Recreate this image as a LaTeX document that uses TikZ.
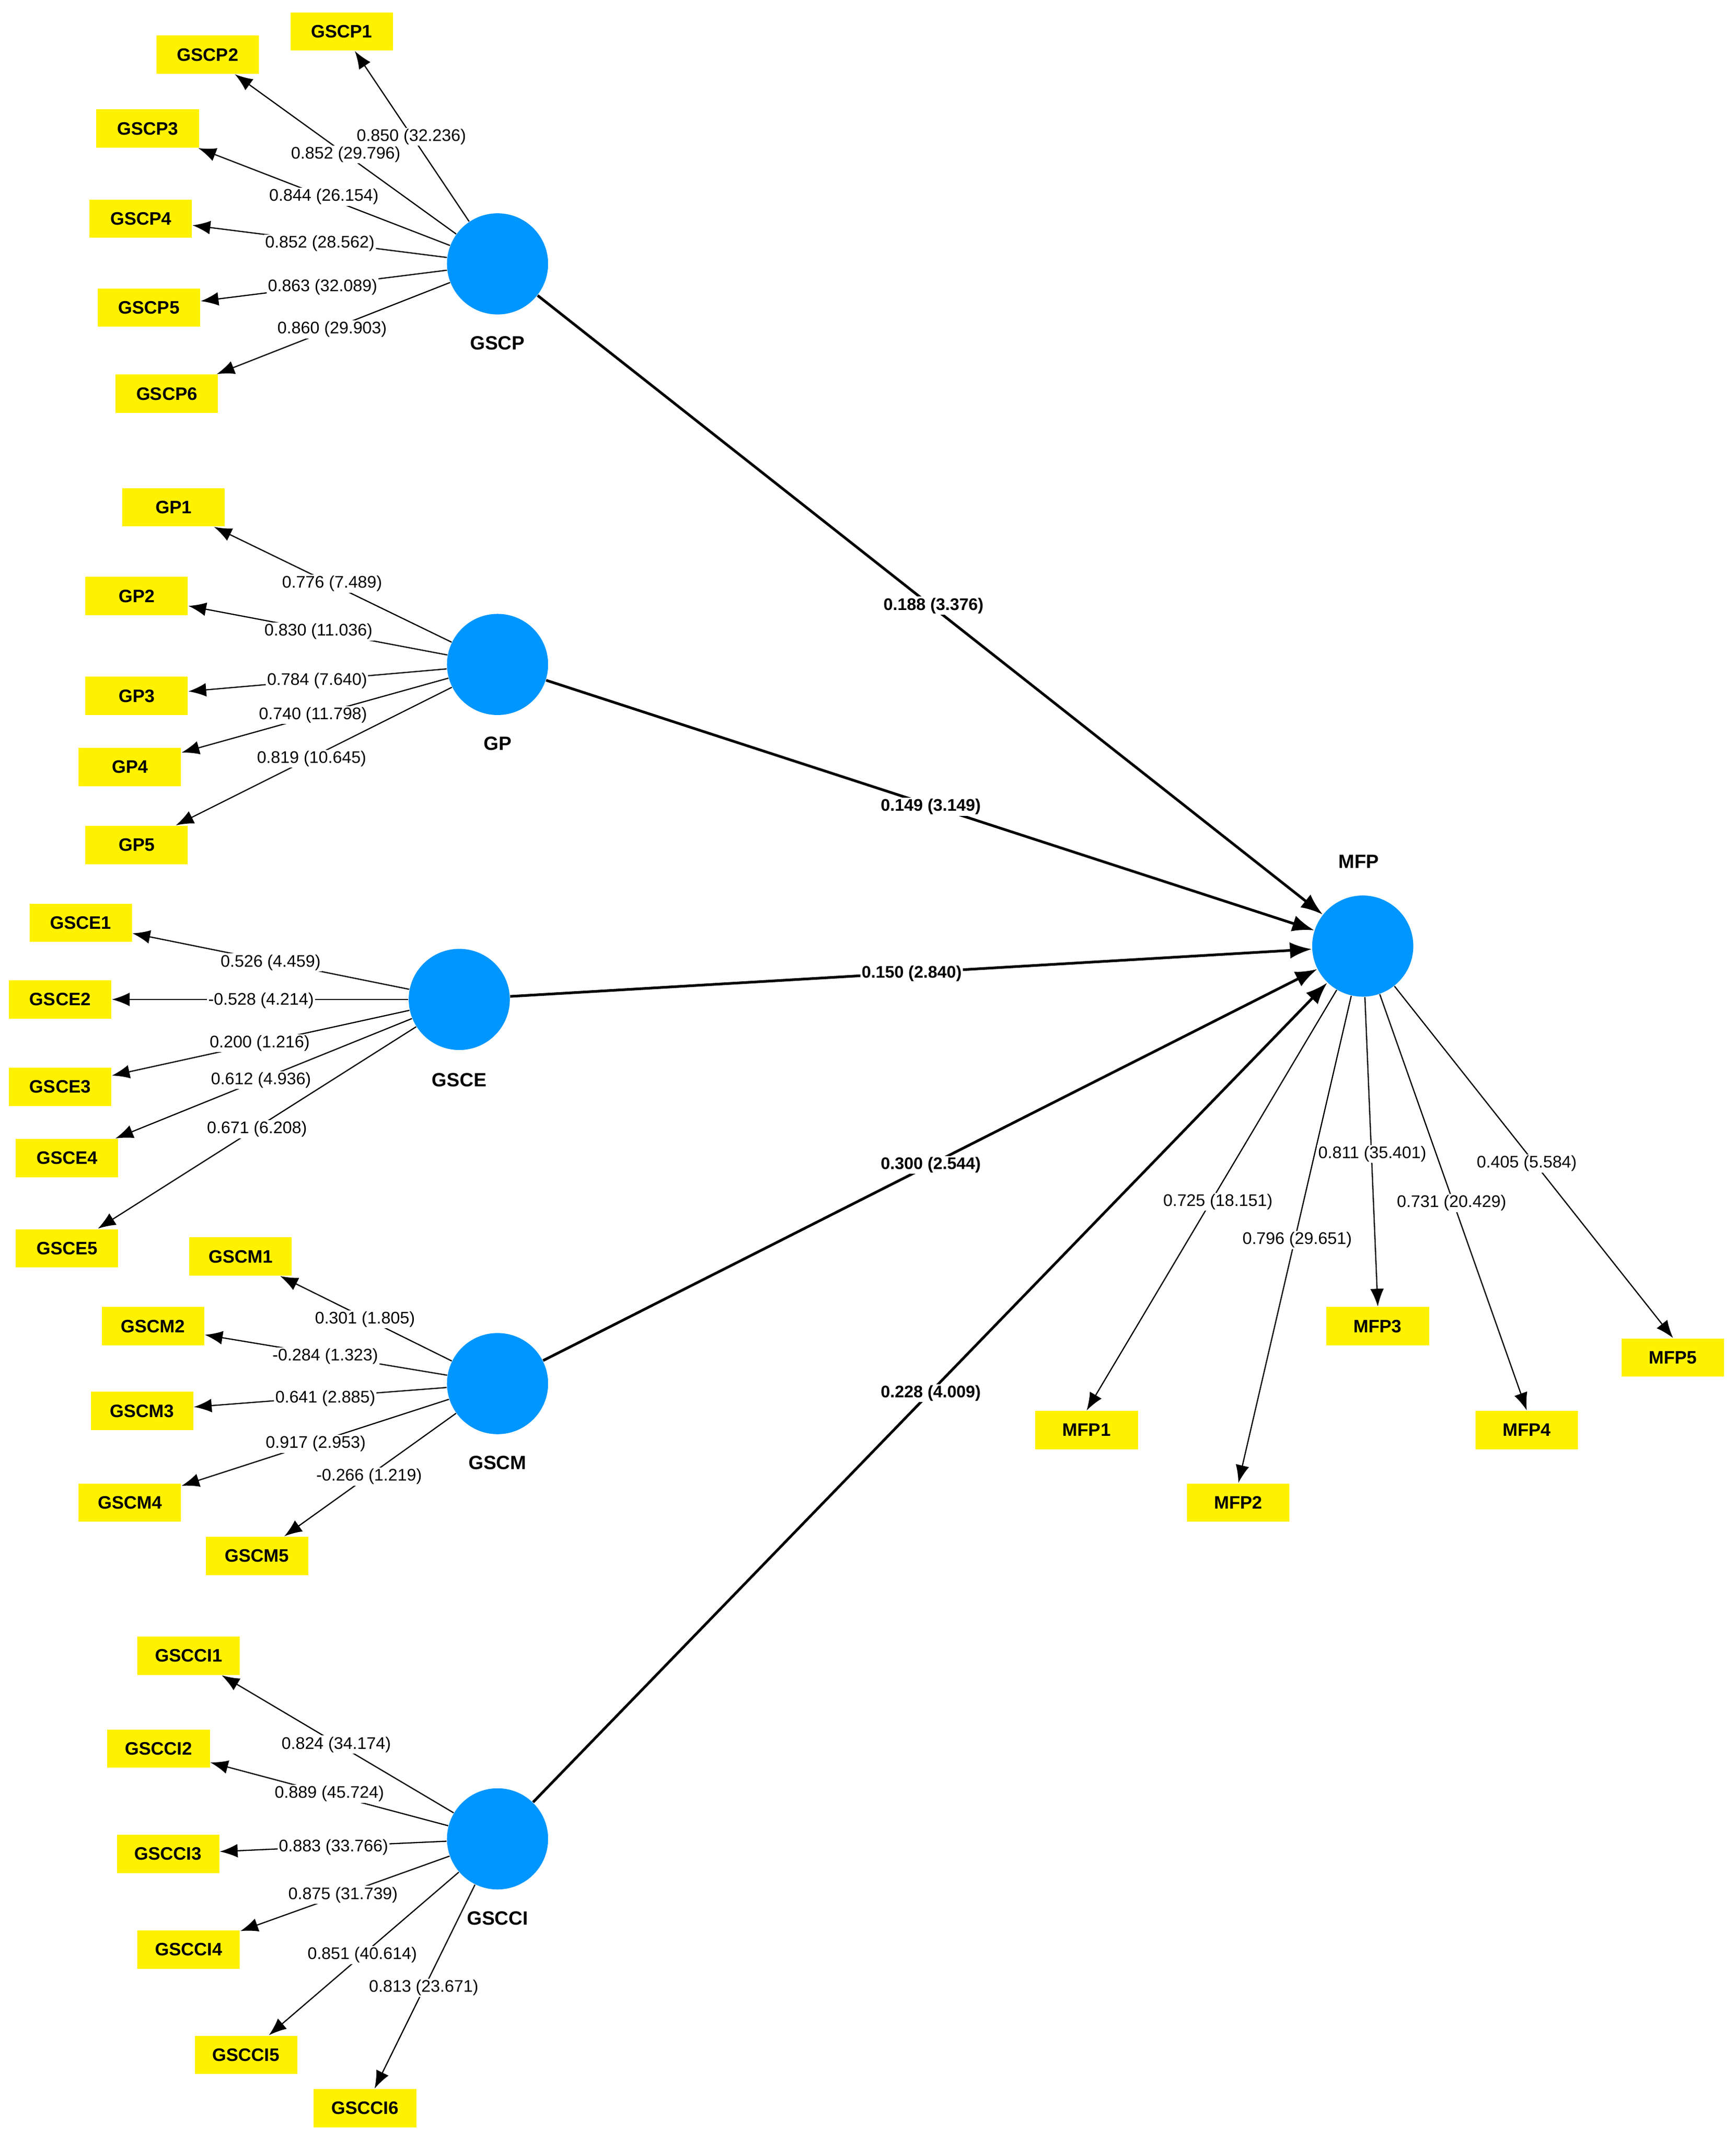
\documentclass[tikz,border=0pt]{standalone}
\usepackage{fontspec}
\setmainfont{Liberation Sans}
\usetikzlibrary{arrows.meta}
\tikzset{
  lv/.style={circle,fill={rgb,255:red,0;green,150;blue,255},minimum size=1.48cm,inner sep=0pt},
  ind/.style={rectangle,fill=yellow,minimum width=1.5cm,minimum height=0.56cm,inner sep=0pt,font=\fontsize{7.5}{8}\selectfont\bfseries},
  nm/.style={font=\fontsize{8}{9}\selectfont\bfseries},
  lab/.style={fill=white,inner sep=0.5pt,font=\fontsize{7}{8}\selectfont},
  plab/.style={fill=white,inner sep=0.5pt,font=\fontsize{7}{8}\selectfont\bfseries},
  load/.style={-{Latex[length=2.6mm,width=2mm]},line width=0.5pt},
  path/.style={-{Latex[length=3.2mm,width=2.4mm]},line width=1.1pt}
}
\begin{document}
\begin{tikzpicture}[x=0.02cm,y=-0.02cm]
  \useasboundingbox (0,0) rectangle (1270,1566);
  % latent variables
  \node[lv] (gscp) at (364,193) {};
  \node[lv] (gp) at (364,486) {};
  \node[lv] (gsce) at (336,731) {};
  \node[lv] (gscm) at (364,1012) {};
  \node[lv] (gscci) at (364,1345) {};
  \node[lv] (mfp) at (997,692) {};
  \node[nm] (gscpn) at (364,251) {GSCP};
  \node[nm] (gpn) at (364,544) {GP};
  \node[nm] (gscen) at (336,790) {GSCE};
  \node[nm] (gscmn) at (364,1070) {GSCM};
  \node[nm] (gsccin) at (364,1403) {GSCCI};
  \node[nm] (mfpn) at (994,630) {MFP};
  % indicators
  \node[ind] (gscp1) at (250,23) {GSCP1};
  \node[ind] (gscp2) at (152,40) {GSCP2};
  \node[ind] (gscp3) at (108,94) {GSCP3};
  \node[ind] (gscp4) at (103,160) {GSCP4};
  \node[ind] (gscp5) at (109,225) {GSCP5};
  \node[ind] (gscp6) at (122,288) {GSCP6};
  \node[ind] (gp1) at (127,371) {GP1};
  \node[ind] (gp2) at (100,436) {GP2};
  \node[ind] (gp3) at (100,509) {GP3};
  \node[ind] (gp4) at (95,561) {GP4};
  \node[ind] (gp5) at (100,618) {GP5};
  \node[ind] (gsce1) at (59,675) {GSCE1};
  \node[ind] (gsce2) at (44,731) {GSCE2};
  \node[ind] (gsce3) at (44,795) {GSCE3};
  \node[ind] (gsce4) at (49,847) {GSCE4};
  \node[ind] (gsce5) at (49,913) {GSCE5};
  \node[ind] (gscm1) at (176,919) {GSCM1};
  \node[ind] (gscm2) at (112,970) {GSCM2};
  \node[ind] (gscm3) at (104,1032) {GSCM3};
  \node[ind] (gscm4) at (95,1099) {GSCM4};
  \node[ind] (gscm5) at (188,1138) {GSCM5};
  \node[ind] (gscci1) at (138,1211) {GSCCI1};
  \node[ind] (gscci2) at (116,1279) {GSCCI2};
  \node[ind] (gscci3) at (123,1356) {GSCCI3};
  \node[ind] (gscci4) at (138,1426) {GSCCI4};
  \node[ind] (gscci5) at (180,1503) {GSCCI5};
  \node[ind] (gscci6) at (267,1542) {GSCCI6};
  \node[ind] (mfp1) at (795,1046) {MFP1};
  \node[ind] (mfp2) at (906,1099) {MFP2};
  \node[ind] (mfp3) at (1008,970) {MFP3};
  \node[ind] (mfp4) at (1117,1046) {MFP4};
  \node[ind] (mfp5) at (1224,993) {MFP5};
  % loadings
  \draw[load] (gscp) -- (gscp1);
  \draw[load] (gscp) -- (gscp2);
  \draw[load] (gscp) -- (gscp3);
  \draw[load] (gscp) -- (gscp4);
  \draw[load] (gscp) -- (gscp5);
  \draw[load] (gscp) -- (gscp6);
  \draw[load] (gp) -- (gp1);
  \draw[load] (gp) -- (gp2);
  \draw[load] (gp) -- (gp3);
  \draw[load] (gp) -- (gp4);
  \draw[load] (gp) -- (gp5);
  \draw[load] (gsce) -- (gsce1);
  \draw[load] (gsce) -- (gsce2);
  \draw[load] (gsce) -- (gsce3);
  \draw[load] (gsce) -- (gsce4);
  \draw[load] (gsce) -- (gsce5);
  \draw[load] (gscm) -- (gscm1);
  \draw[load] (gscm) -- (gscm2);
  \draw[load] (gscm) -- (gscm3);
  \draw[load] (gscm) -- (gscm4);
  \draw[load] (gscm) -- (gscm5);
  \draw[load] (gscci) -- (gscci1);
  \draw[load] (gscci) -- (gscci2);
  \draw[load] (gscci) -- (gscci3);
  \draw[load] (gscci) -- (gscci4);
  \draw[load] (gscci) -- (gscci5);
  \draw[load] (gscci) -- (gscci6);
  \draw[load] (mfp) -- (mfp1.north);
  \draw[load] (mfp) -- (mfp2.north);
  \draw[load] (mfp) -- (mfp3.north);
  \draw[load] (mfp) -- (mfp4.north);
  \draw[load] (mfp) -- (mfp5.north);
  % structural paths
  \draw[path] (gscp) -- (mfp);
  \draw[path] (gp) -- (mfp);
  \draw[path] (gsce) -- (mfp);
  \draw[path] (gscm) -- (mfp);
  \draw[path] (gscci) -- (mfp);
  % loading labels
  \node[lab] (l1) at (301,100) {0.850 (32.236)};
  \node[lab] (l2) at (253,113) {0.852 (29.796)};
  \node[lab] (l3) at (237,144) {0.844 (26.154)};
  \node[lab] (l4) at (234,178) {0.852 (28.562)};
  \node[lab] (l5) at (236,210) {0.863 (32.089)};
  \node[lab] (l6) at (243,241) {0.860 (29.903)};
  \node[lab] (l7) at (243,427) {0.776 (7.489)};
  \node[lab] (l8) at (233,462) {0.830 (11.036)};
  \node[lab] (l9) at (232,498) {0.784 (7.640)};
  \node[lab] (l10) at (229,523) {0.740 (11.798)};
  \node[lab] (l11) at (228,555) {0.819 (10.645)};
  \node[lab] (l12) at (198,704) {0.526 (4.459)};
  \node[lab] (l13) at (191,732) {-0.528 (4.214)};
  \node[lab] (l14) at (190,763) {0.200 (1.216)};
  \node[lab] (l15) at (191,790) {0.612 (4.936)};
  \node[lab] (l16) at (188,826) {0.671 (6.208)};
  \node[lab] (l17) at (267,965) {0.301 (1.805)};
  \node[lab] (l18) at (238,992) {-0.284 (1.323)};
  \node[lab] (l19) at (238,1023) {0.641 (2.885)};
  \node[lab] (l20) at (231,1056) {0.917 (2.953)};
  \node[lab] (l21) at (270,1080) {-0.266 (1.219)};
  \node[lab] (l22) at (246,1276) {0.824 (34.174)};
  \node[lab] (l23) at (241,1312) {0.889 (45.724)};
  \node[lab] (l24) at (244,1351) {0.883 (33.766)};
  \node[lab] (l25) at (251,1386) {0.875 (31.739)};
  \node[lab] (l26) at (265,1430) {0.851 (40.614)};
  \node[lab] (l27) at (310,1454) {0.813 (23.671)};
  \node[lab] (l28) at (891,879) {0.725 (18.151)};
  \node[lab] (l29) at (949,907) {0.796 (29.651)};
  \node[lab] (l30) at (1004,844) {0.811 (35.401)};
  \node[lab] (l31) at (1062,880) {0.731 (20.429)};
  \node[lab] (l32) at (1117,851) {0.405 (5.584)};
  % path labels
  \node[plab] (p1) at (683,443) {0.188 (3.376)};
  \node[plab] (p2) at (681,590) {0.149 (3.149)};
  \node[plab] (p3) at (667,712) {0.150 (2.840)};
  \node[plab] (p4) at (681,852) {0.300 (2.544)};
  \node[plab] (p5) at (681,1019) {0.228 (4.009)};
\end{tikzpicture}
\end{document}
